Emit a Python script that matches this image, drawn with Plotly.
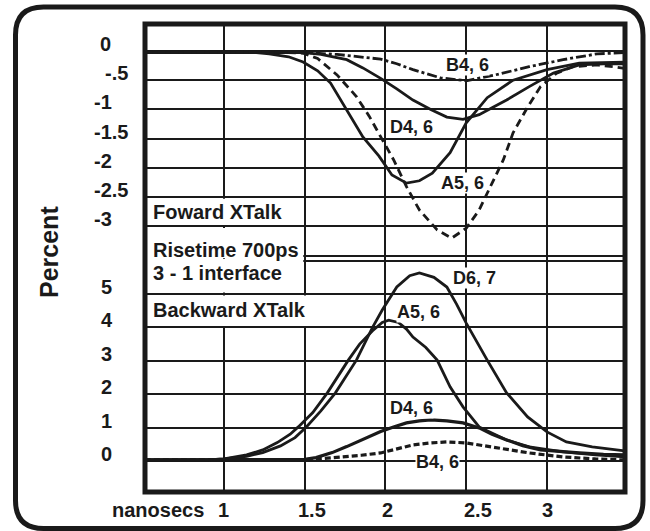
import plotly.graph_objects as go

# Forward crosstalk (upper panel), percent vs nanosecs
fwd_a5_x = [0.51, 0.8, 1.0, 1.2, 1.28, 1.4, 1.49, 1.58, 1.66, 1.76, 1.86, 1.96, 2.04, 2.13, 2.21,
            2.29, 2.40, 2.50, 2.63, 2.79, 3.0, 3.2, 3.48]
fwd_a5_y = [-0.03, -0.03, -0.02, -0.03, -0.05, -0.10, -0.19, -0.34, -0.55, -1.0, -1.47, -1.80,
            -2.12, -2.26, -2.22, -2.09, -1.74, -1.23, -0.80, -0.50, -0.32, -0.21, -0.19]

fwd_a5d_x = [0.51, 1.0, 1.3, 1.49, 1.58, 1.70, 1.82, 1.90, 1.97, 2.05, 2.13, 2.21, 2.32, 2.41,
             2.50, 2.58, 2.66, 2.73, 2.79, 2.88, 2.96, 3.06, 3.16, 3.31, 3.41, 3.48]
fwd_a5d_y = [-0.02, -0.02, -0.02, -0.04, -0.13, -0.41, -0.78, -1.12, -1.47, -1.86, -2.32, -2.72,
             -3.06, -3.2, -3.03, -2.72, -2.26, -1.86, -1.40, -0.96, -0.61, -0.38, -0.27, -0.24,
             -0.27, -0.30]

fwd_d4_x = [0.51, 1.0, 1.5, 1.6, 1.76, 1.86, 1.97, 2.07, 2.17, 2.28, 2.38, 2.48, 2.58, 2.66,
            2.75, 2.89, 3.04, 3.20, 3.35, 3.48]
fwd_d4_y = [-0.02, -0.02, -0.03, -0.06, -0.15, -0.29, -0.47, -0.65, -0.84, -1.0, -1.13, -1.17,
            -1.09, -0.97, -0.84, -0.61, -0.38, -0.24, -0.22, -0.22]

fwd_b4_x = [0.51, 1.0, 1.5, 1.7, 1.85, 1.97, 2.07, 2.17, 2.34, 2.50, 2.68, 2.89, 3.10, 3.31, 3.48]
fwd_b4_y = [-0.02, -0.02, -0.03, -0.06, -0.10, -0.14, -0.22, -0.32, -0.46, -0.51, -0.41, -0.27,
            -0.15, -0.05, -0.03]

# Backward crosstalk (lower panel)
bwd_d6_x = [0.51, 0.9, 1.0, 1.14, 1.24, 1.35, 1.44, 1.51, 1.60, 1.69, 1.82, 1.92, 1.98, 2.07,
            2.15, 2.21, 2.30, 2.38, 2.44, 2.50, 2.63, 2.75, 2.88, 3.0, 3.12, 3.28, 3.48]
bwd_d6_y = [0.03, 0.03, 0.06, 0.14, 0.25, 0.45, 0.70, 1.02, 1.50, 2.04, 3.02, 4.0, 4.52, 5.21,
            5.55, 5.63, 5.50, 5.21, 4.70, 4.13, 3.02, 2.04, 1.32, 0.87, 0.57, 0.42, 0.30]

bwd_a5_x = [0.51, 0.9, 1.0, 1.14, 1.24, 1.33, 1.41, 1.46, 1.55, 1.64, 1.77, 1.84, 1.92, 1.98,
            2.02, 2.08, 2.13, 2.17, 2.25, 2.32, 2.40, 2.48, 2.58, 2.75, 2.89, 3.1, 3.3, 3.48]
bwd_a5_y = [0.03, 0.03, 0.06, 0.18, 0.33, 0.55, 0.80, 1.02, 1.45, 2.04, 3.02, 3.5, 3.9, 4.15,
            4.22, 4.15, 3.95, 3.71, 3.40, 3.02, 2.22, 1.62, 1.02, 0.63, 0.42, 0.27, 0.18, 0.12]

bwd_d4_x = [0.51, 1.0, 1.3, 1.5, 1.57, 1.67, 1.76, 1.86, 1.97, 2.05, 2.13, 2.21, 2.28, 2.38,
            2.48, 2.58, 2.66, 2.75, 2.85, 2.96, 3.08, 3.2, 3.35, 3.48]
bwd_d4_y = [0.03, 0.03, 0.04, 0.05, 0.10, 0.25, 0.43, 0.64, 0.88, 1.02, 1.14, 1.20, 1.23, 1.20,
            1.14, 0.99, 0.80, 0.63, 0.46, 0.33, 0.28, 0.24, 0.20, 0.18]

bwd_b4_x = [0.51, 1.0, 1.5, 1.6, 1.75, 1.85, 1.97, 2.07, 2.17, 2.28, 2.38, 2.5, 2.6, 2.69, 2.8,
            2.89, 3.0, 3.1, 3.3, 3.48]
bwd_b4_y = [0.03, 0.03, 0.04, 0.07, 0.12, 0.17, 0.24, 0.36, 0.48, 0.54, 0.57, 0.54, 0.47, 0.39,
            0.31, 0.24, 0.17, 0.12, 0.06, 0.03]

# tick labels
x_ticks = [1, 1.5, 2, 2.5, 3]
x_ticktext = ["1", "1.5", "2", "2.5", "3"]
fwd_ticks = [0, -0.5, -1, -1.5, -2, -2.5, -3]
fwd_ticktext = ["0", "-.5", "-1", "-1.5", "-2", "-2.5", "-3"]
bwd_ticks = [5, 4, 3, 2, 1, 0]
bwd_ticktext = ["5", "4", "3", "2", "1", "0"]

# curve labels: (text, x, y, panel)
curve_labels = [
    ("B4, 6", 2.505, -0.24, 1), ("D4, 6", 2.164, -1.30, 1), ("A5, 6", 2.474, -2.26, 1),
    ("D6, 7", 2.554, 5.48, 2), ("A5, 6", 2.207, 4.46, 2), ("D4, 6", 2.164, 1.59, 2),
    ("B4, 6", 2.325, -0.03, 2),
]

W, H = 650, 531
INK = "#1a1a1a"
FONT = "Liberation Sans, Arial, sans-serif"


def px(x):
    return x / W


def py(y):
    return 1 - y / H


x_range = [0.511, 3.483]
x_dom = [px(145), px(625)]
up_range = [-3.55, 0.46]
up_dom = [py(258.6), py(24)]
lo_range = [-0.93, 6.05]
lo_dom = [py(492), py(259)]

fig = go.Figure()

lw = 2.8
fig.add_trace(go.Scatter(x=fwd_b4_x, y=fwd_b4_y, mode="lines", line=dict(color=INK, width=lw, dash="10px,3px,3px,3px"), xaxis="x", yaxis="y"))
fig.add_trace(go.Scatter(x=fwd_d4_x, y=fwd_d4_y, mode="lines", line=dict(color=INK, width=lw), xaxis="x", yaxis="y"))
fig.add_trace(go.Scatter(x=fwd_a5_x, y=fwd_a5_y, mode="lines", line=dict(color=INK, width=lw), xaxis="x", yaxis="y"))
fig.add_trace(go.Scatter(x=fwd_a5d_x, y=fwd_a5d_y, mode="lines", line=dict(color=INK, width=lw, dash="8px,5px"), xaxis="x", yaxis="y"))

fig.add_trace(go.Scatter(x=bwd_b4_x, y=bwd_b4_y, mode="lines", line=dict(color=INK, width=3.2, dash="6px,3px"), xaxis="x2", yaxis="y2"))
fig.add_trace(go.Scatter(x=bwd_d4_x, y=bwd_d4_y, mode="lines", line=dict(color=INK, width=3.2), xaxis="x2", yaxis="y2"))
fig.add_trace(go.Scatter(x=bwd_a5_x, y=bwd_a5_y, mode="lines", line=dict(color=INK, width=lw), xaxis="x2", yaxis="y2"))
fig.add_trace(go.Scatter(x=bwd_d6_x, y=bwd_d6_y, mode="lines", line=dict(color=INK, width=lw), xaxis="x2", yaxis="y2"))

grid = dict(showgrid=True, gridcolor=INK, gridwidth=1.6, zeroline=False, showline=False,
            showticklabels=False, ticks="", fixedrange=True)

fig.update_layout(
    width=W, height=H,
    margin=dict(l=0, r=0, t=0, b=0, pad=0),
    paper_bgcolor="white", plot_bgcolor="white",
    showlegend=False,
    hovermode=False,
    xaxis=dict(domain=x_dom, range=x_range, dtick=0.5, tick0=0, anchor="y", **grid),
    yaxis=dict(domain=up_dom, range=up_range, dtick=0.5, tick0=0, anchor="x", **grid),
    xaxis2=dict(domain=x_dom, range=x_range, dtick=0.5, tick0=0, anchor="y2", **grid),
    yaxis2=dict(domain=lo_dom, range=lo_range, dtick=1, tick0=0, anchor="x2", **grid),
)

# white boxes hiding the grid behind the legend texts
ex, ey1, ey2 = 0.009, 0.026, 0.045
mask = dict(type="rect", fillcolor="white", line=dict(width=0), layer="between")
fig.add_shape(x0=x_range[0], x1=1.5 - ex, y0=-3 + ey1, y1=-2.5 - ey1, xref="x", yref="y", **mask)
fig.add_shape(x0=x_range[0], x1=1.5 - ex, y0=up_range[0], y1=-3 - ey1, xref="x", yref="y", **mask)
fig.add_shape(x0=x_range[0], x1=1.5 - ex, y0=5 + ey2, y1=lo_range[1], xref="x2", yref="y2", **mask)
fig.add_shape(x0=x_range[0], x1=1.54, y0=4 + ey2, y1=5 - ey2, xref="x2", yref="y2", **mask)

# plot frame
fig.add_shape(type="rect", xref="paper", yref="paper", x0=x_dom[0], x1=x_dom[1],
              y0=lo_dom[0], y1=up_dom[1], line=dict(color=INK, width=5), layer="above")

# outer rounded border
L, T, R, B, r = 15.5, 7, 643, 528.5, 28
pts = [("M", L + r, T), ("L", R - r, T), ("Q", R, T, R, T + r), ("L", R, B - r),
       ("Q", R, B, R - r, B), ("L", L + r, B), ("Q", L, B, L, B - r), ("L", L, T + r),
       ("Q", L, T, L + r, T)]
path = ""
for p in pts:
    coords = p[1:]
    path += p[0] + " " + " ".join(
        f"{px(coords[i]):.5f},{py(coords[i + 1]):.5f}" for i in range(0, len(coords), 2)) + " "
path += "Z"
fig.add_shape(type="path", path=path, xref="paper", yref="paper", line=dict(color=INK, width=5))

tf = dict(family=FONT, size=20, color=INK, weight="bold")

# y tick labels
shift_up = {"0": 6, "-.5": 11}
for v, t in zip(fwd_ticks, fwd_ticktext):
    fig.add_annotation(x=px(92), xref="paper", y=v, yref="y", text=t, showarrow=False,
                       xanchor="left", yanchor="middle", yshift=7, xshift=shift_up.get(t, 0), font=tf)
for v, t in zip(bwd_ticks, bwd_ticktext):
    fig.add_annotation(x=px(99), xref="paper", y=v, yref="y2", text=t, showarrow=False,
                       xanchor="left", yanchor="middle", yshift=7, font=tf)

# x tick labels
x_shift = {"1.5": 7, "2": 2, "2.5": 12, "3": 1}
for v, t in zip(x_ticks, x_ticktext):
    fig.add_annotation(x=v, xref="x2", y=py(510), yref="paper", text=t, showarrow=False,
                       xanchor="center", yanchor="middle", xshift=x_shift.get(t, 0), font=tf)
fig.add_annotation(x=px(158), xref="paper", y=py(510), yref="paper", text="nanosecs",
                   showarrow=False, xanchor="center", yanchor="middle", font=tf)

fig.add_annotation(x=px(49), xref="paper", y=py(252), yref="paper", text="Percent", textangle=-90,
                   showarrow=False, xanchor="center", yanchor="middle",
                   font=dict(family=FONT, size=25, color=INK, weight="bold"))

# panel texts
for t, yy in [("Foward XTalk", 212), ("Risetime 700ps", 250), ("3 - 1 interface", 273),
              ("Backward XTalk", 310)]:
    fig.add_annotation(x=px(151), xref="paper", y=py(yy), yref="paper", text=t, showarrow=False,
                       xanchor="left", yanchor="middle", font=tf)

# curve labels
for t, xx, yy, panel in curve_labels:
    fig.add_annotation(x=xx, y=yy, xref="x" if panel == 1 else "x2", yref="y" if panel == 1 else "y2",
                       text=t, showarrow=False, bgcolor="white", borderpad=0,
                       font=dict(family=FONT, size=18, color=INK, weight="bold"))

# no page margin so the 650x531 figure fills the window
fig.write_html("out.html", config={"displayModeBar": False},
               post_script="document.body.style.margin='0';")
